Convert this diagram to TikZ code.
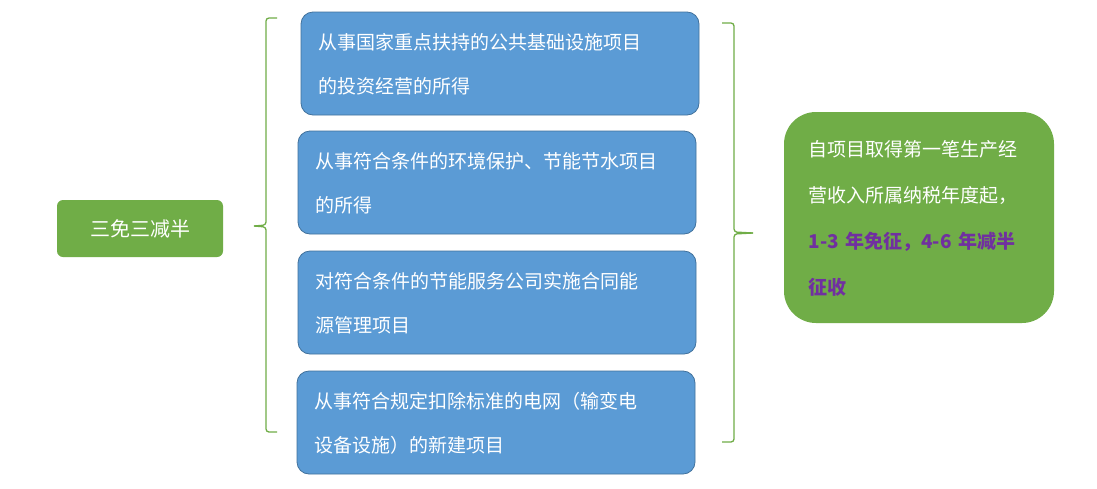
\documentclass[tikz,border=0pt]{standalone}
\usepackage{fontspec}
\setmainfont{Noto Sans CJK SC}
\begin{document}
\begin{tikzpicture}[x=1pt,y=-1pt,
  blue/.style={draw=blue!40!black!60!cyan!60,fill=bcol,rounded corners=12pt,line width=0.8pt},
  btxt/.style={text=white,font=\fontsize{19}{44}\selectfont,align=left,text width=370pt,anchor=west},
  br/.style={draw=gcol,line width=1.3pt,rounded corners=3pt}]
\definecolor{bcol}{HTML}{5B9BD5}
\definecolor{bbd}{HTML}{41719C}
\definecolor{gcol}{HTML}{70AD47}
\definecolor{pcol}{HTML}{7030A0}
\useasboundingbox (0,0) rectangle (1097,488);
\fill[white] (0,0) rectangle (1097,488);
\node[fill=gcol,rounded corners=6pt,minimum width=166pt,minimum height=57pt,text=white,font=\fontsize{20}{24}\selectfont] (L) at (140,228.5) {三免三减半};
\draw[br] (277,18) -- (266,18) -- (266,225) -- (254,226) coordinate (lt);
\draw[br] (254,226) -- (266,227) -- (266,432) -- (277,432);
\foreach \i/\x/\y/\w/\t in {1/301/12/398/{从事国家重点扶持的公共基础设施项目\\的投资经营的所得},
  2/298/131/398/{从事符合条件的环境保护、节能节水项目\\的所得},
  3/298/251/398/{对符合条件的节能服务公司实施合同能\\源管理项目},
  4/297/371/398/{从事符合规定扣除标准的电网（输变电\\设备设施）的新建项目}}{
  \draw[blue,draw=bbd] (\x,\y) rectangle ++(\w,103) coordinate (b\i);
  \node[btxt] (t\i) at (\x+14,\y+52) {\t};
}
\draw[br] (722,23) -- (734,23) -- (734,232) -- (753,233) coordinate (rt);
\draw[br] (753,233) -- (734,234) -- (734,442) -- (722,442);
\node[fill=gcol,rounded corners=32pt,minimum width=270pt,minimum height=211pt] (R) at (919,217.5) {};
\node[text=white,font=\fontsize{19}{46}\selectfont,align=left,text width=240pt,anchor=west] (Rt) at (805,218)
 {自项目取得第一笔生产经\\营收入所属纳税年度起，\\{\color{pcol}\bfseries 1-3 年免征，4-6 年减半}\\{\color{pcol}\bfseries 征收}};
\end{tikzpicture}
\end{document}
